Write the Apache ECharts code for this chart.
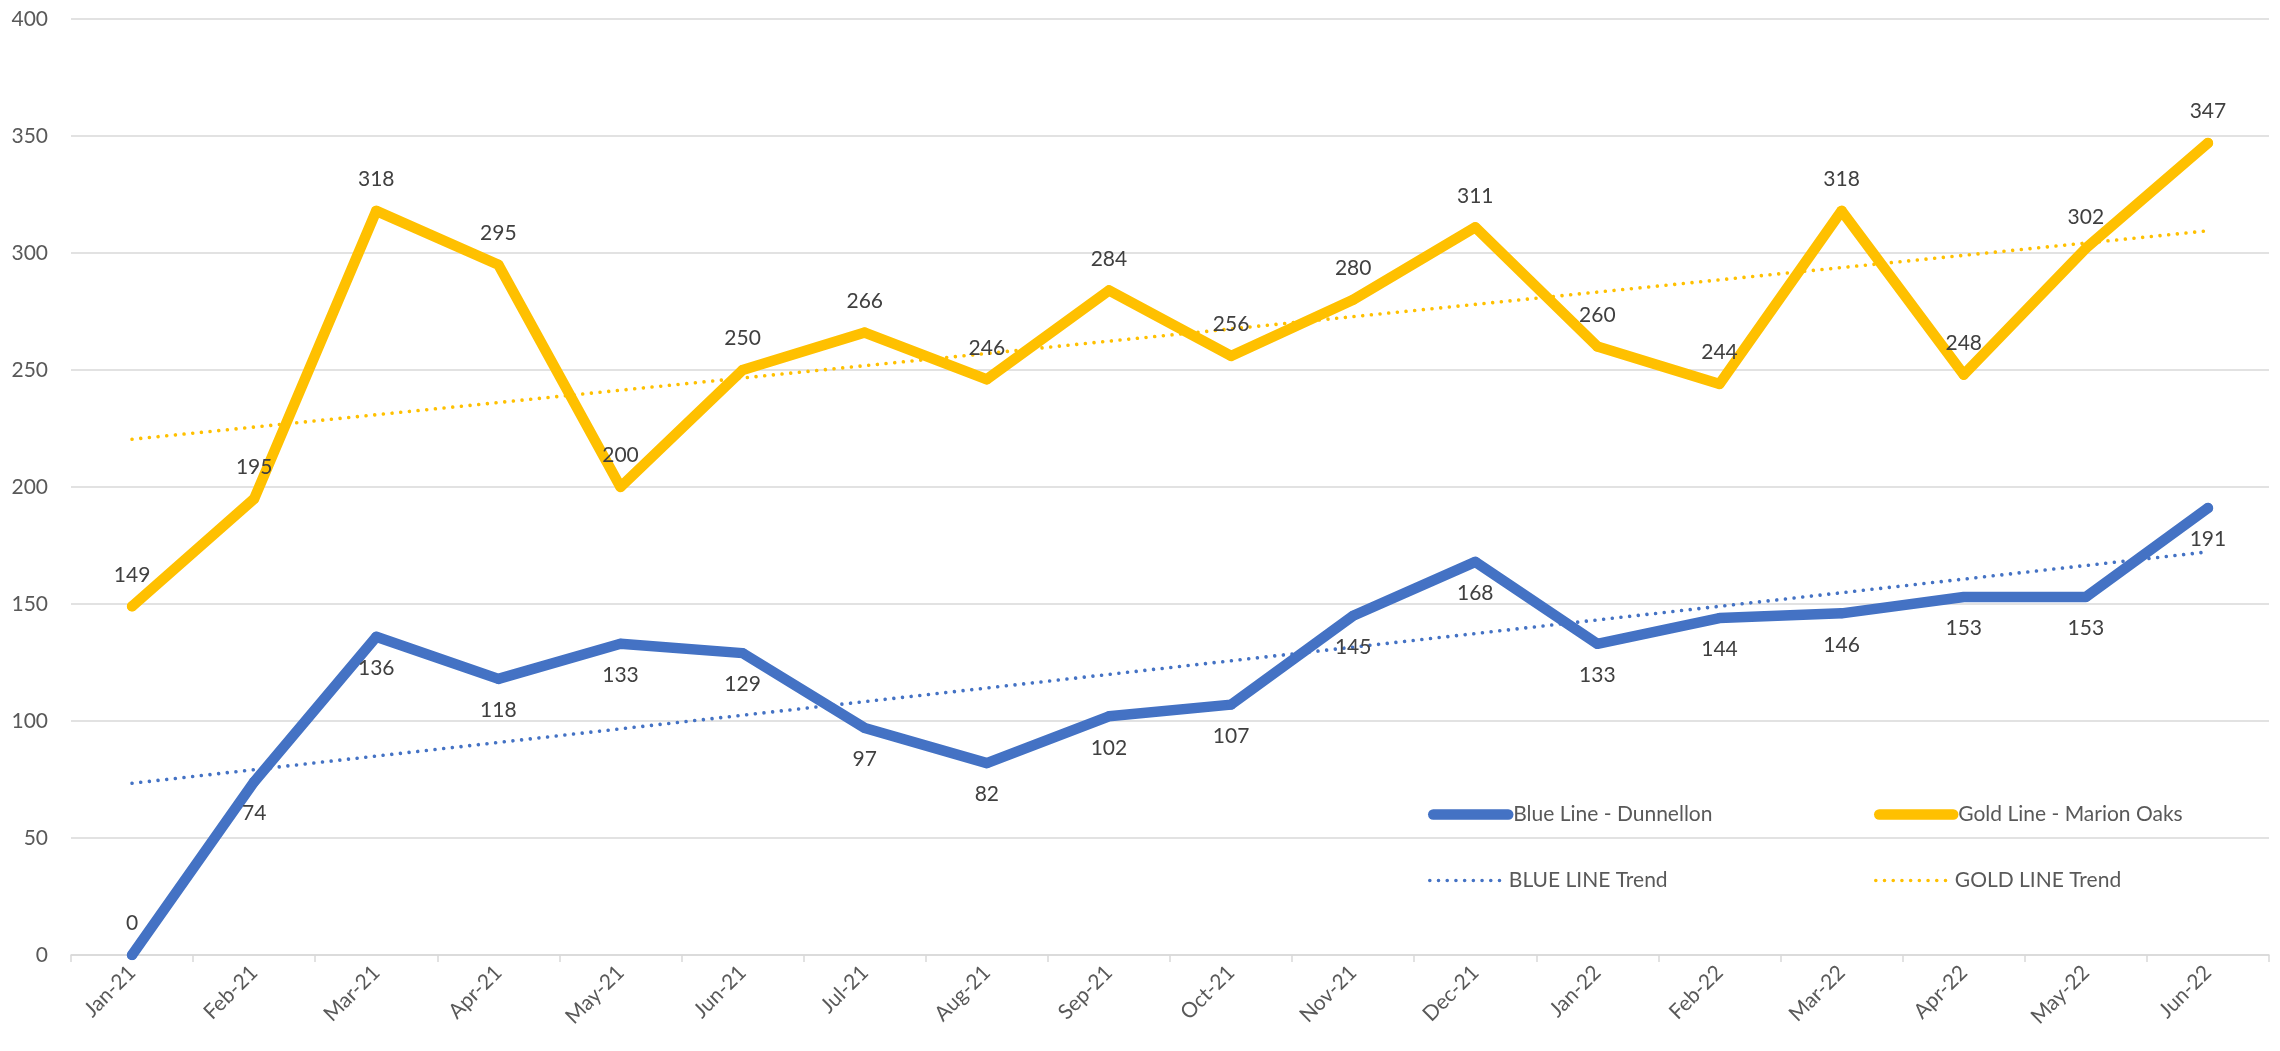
<!DOCTYPE html>
<html>
<head>
<meta charset="utf-8">
<script src="https://cdn.jsdelivr.net/npm/echarts@6/dist/echarts.min.js"></script>
<style>
  html, body { margin: 0; padding: 0; background: #ffffff; }
  #chart { width: 2280px; height: 1051px; }
</style>
</head>
<body>
<div id="chart"></div>
<script>
// Monthly counts, Jan-21 through Jun-22
const months = ['Jan-21','Feb-21','Mar-21','Apr-21','May-21','Jun-21','Jul-21','Aug-21','Sep-21',
                'Oct-21','Nov-21','Dec-21','Jan-22','Feb-22','Mar-22','Apr-22','May-22','Jun-22'];
const blueDunnellon = [0, 74, 136, 118, 133, 129, 97, 82, 102, 107, 145, 168, 133, 144, 146, 153, 153, 191];
const goldMarionOaks = [149, 195, 318, 295, 200, 250, 266, 246, 284, 256, 280, 311, 260, 244, 318, 248, 302, 347];
const yTicks = { min: 0, max: 400, step: 50 };

const BLUE = '#4472C4';
const GOLD = '#FFC000';
const TEXT = '#595959';
const LABEL = '#404040';
const GRID = '#D9D9D9';
const FONT = 'Lato, "Open Sans", sans-serif';
const FS = 21;

// Least-squares linear trend over the category index (1..n)
function linearTrend(values) {
  const n = values.length;
  let sx = 0, sy = 0, sxy = 0, sxx = 0;
  values.forEach((y, i) => { const x = i + 1; sx += x; sy += y; sxy += x * y; sxx += x * x; });
  const slope = (n * sxy - sx * sy) / (n * sxx - sx * sx);
  const icpt = (sy - slope * sx) / n;
  return values.map((_, i) => +(icpt + slope * (i + 1)).toFixed(3));
}

const blueTrend = linearTrend(blueDunnellon);
const goldTrend = linearTrend(goldMarionOaks);

const dotted = [0.01, 8.7];

function mainSeries(name, data, color, labelPos) {
  return {
    name, type: 'line', data, z: 3,
    symbol: 'circle', symbolSize: 10,
    itemStyle: { color },
    lineStyle: { color, width: 10.5, cap: 'round', join: 'round' },
    label: {
      show: true, position: labelPos, distance: 16,
      color: LABEL, fontSize: FS, fontFamily: FONT
    },
    emphasis: { disabled: true },
    animation: false
  };
}

const blueSeries = mainSeries('Blue Line - Dunnellon', blueDunnellon, BLUE, 'bottom');
// the zero value sits on the axis, so its label goes above the point
blueSeries.data = blueDunnellon.map(v => v === 0
  ? { value: v, label: { position: 'top' } }
  : v);
const goldSeries = mainSeries('Gold Line - Marion Oaks', goldMarionOaks, GOLD, 'top');

function trendSeries(name, data, color) {
  return {
    name, type: 'line', data, z: 2,
    symbol: 'none',
    lineStyle: { color, width: 3.6, type: dotted, cap: 'round' },
    itemStyle: { color },
    emphasis: { disabled: true },
    animation: false
  };
}

function legendAt(name, left, top, width, lineStyle) {
  return {
    data: [name], left, top,
    orient: 'horizontal',
    itemWidth: width, itemHeight: 20,
    selectedMode: false,
    itemStyle: { opacity: 0 },
    lineStyle,
    textStyle: { color: TEXT, fontSize: FS, fontFamily: FONT }
  };
}

const option = {
  backgroundColor: '#ffffff',
  animation: false,
  grid: { left: 71, right: 11, top: 19, bottom: 96, containLabel: false },
  legend: [
    legendAt('Blue Line - Dunnellon', 1423, 799, 75, { width: 10.5, cap: 'round', opacity: 1 }),
    legendAt('Gold Line - Marion Oaks', 1869, 799, 74, { width: 10.5, cap: 'round', opacity: 1 }),
    legendAt('BLUE LINE Trend', 1423, 865, 74, { width: 3.6, type: dotted, cap: 'round', opacity: 1 }),
    legendAt('GOLD LINE Trend', 1869, 865, 74, { width: 3.6, type: dotted, cap: 'round', opacity: 1 })
  ],
  xAxis: {
    type: 'category',
    data: months,
    boundaryGap: true,
    axisLine: { show: true, lineStyle: { color: GRID, width: 1.5 } },
    axisTick: { show: true, length: 7, lineStyle: { color: GRID, width: 1.5 } },
    axisLabel: {
      rotate: 45, margin: 14, interval: 0,
      color: TEXT, fontSize: FS, fontFamily: FONT
    },
    splitLine: { show: false }
  },
  yAxis: {
    type: 'value',
    min: yTicks.min, max: yTicks.max, interval: yTicks.step,
    axisLine: { show: false },
    axisTick: { show: false },
    axisLabel: { margin: 23, color: TEXT, fontSize: FS, fontFamily: FONT },
    splitLine: { show: true, lineStyle: { color: GRID, width: 1.5 } }
  },
  series: [
    trendSeries('BLUE LINE Trend', blueTrend, BLUE),
    trendSeries('GOLD LINE Trend', goldTrend, GOLD),
    blueSeries,
    goldSeries
  ]
};

const chart = echarts.init(document.getElementById('chart'), null, { renderer: 'canvas' });
chart.setOption(option);
</script>
</body>
</html>
